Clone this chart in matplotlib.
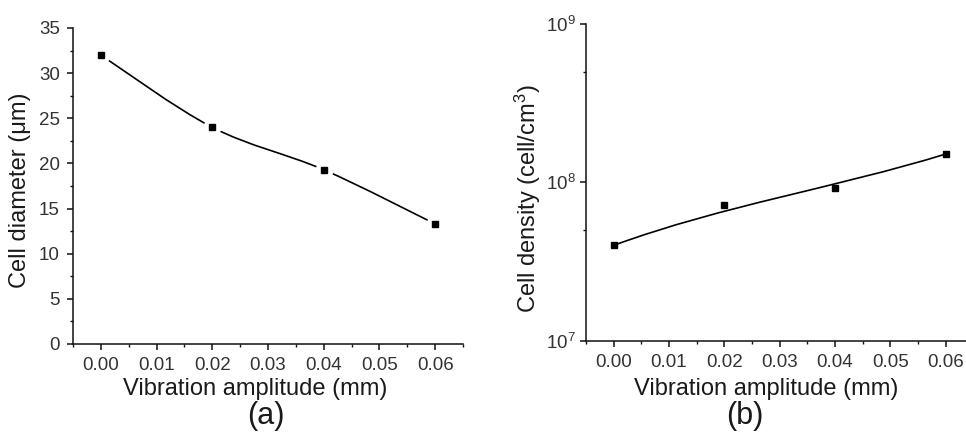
import numpy as np
import matplotlib
matplotlib.use("Agg")
import matplotlib.pyplot as plt
from matplotlib.path import Path
from matplotlib.patches import PathPatch
from matplotlib.ticker import MultipleLocator, LogLocator, NullFormatter, FormatStrFormatter

# Measured data
amplitude = [0.00, 0.02, 0.04, 0.06]            # mm
cell_diameter = [32.0, 24.0, 19.3, 13.3]        # um
cell_density = [4.0e7, 7.2e7, 9.2e7, 1.51e8]    # cell/cm^3

x_ticks = [0.00, 0.01, 0.02, 0.03, 0.04, 0.05, 0.06]

plt.rcParams["font.family"] = ["Liberation Sans", "DejaVu Sans"]
plt.rcParams["mathtext.fontset"] = "custom"
plt.rcParams["mathtext.rm"] = "Liberation Sans"
plt.rcParams["mathtext.it"] = "Liberation Sans:italic"
plt.rcParams["mathtext.bf"] = "Liberation Sans:bold"

TEXT = "#1a1a1a"
TICKTXT = "#333333"


def catmull_rom_path(x, y):
    """Smooth curve through every point, built from cubic Bezier segments."""
    pts = np.column_stack([x, y]).astype(float)
    ext = np.vstack([pts[0], pts, pts[-1]])
    verts = [pts[0]]
    codes = [Path.MOVETO]
    for i in range(len(pts) - 1):
        p0, p1, p2, p3 = ext[i], ext[i + 1], ext[i + 2], ext[i + 3]
        verts += [p1 + (p2 - p0) / 6.0, p2 - (p3 - p1) / 6.0, p2]
        codes += [Path.CURVE4] * 3
    return Path(verts, codes)


def bspline_path(x, y):
    """Cubic B-spline using the data points as control points."""
    verts = np.column_stack([x, y]).astype(float)
    codes = [Path.MOVETO] + [Path.CURVE4] * (len(verts) - 1)
    return Path(verts, codes)


fig = plt.figure(figsize=(9.66, 4.37), dpi=100)
ax1 = fig.add_axes([73 / 966, (437 - 344) / 437, 390 / 966, 316 / 437])
ax2 = fig.add_axes([586 / 966, (437 - 340.7) / 437, 387.4 / 966, 316.7 / 437])

for ax in (ax1, ax2):
    for side in ("top", "right"):
        ax.spines[side].set_visible(False)
    for side in ("left", "bottom"):
        ax.spines[side].set_linewidth(1.1)
        ax.spines[side].set_color("#111111")
    ax.tick_params(which="major", direction="out", length=4.5, width=1.1,
                   labelsize=13.5, labelcolor=TICKTXT, color="#111111", pad=5)
    ax.tick_params(which="minor", direction="out", length=2.5, width=1.0,
                   color="#111111")
    ax.set_xlim(-0.005, 0.065)
    ax.set_xticks(x_ticks)
    ax.xaxis.set_minor_locator(MultipleLocator(0.005))
    ax.xaxis.set_major_formatter(FormatStrFormatter("%.2f"))

# (a) cell diameter
ax1.set_ylim(0, 35)
ax1.yaxis.set_major_locator(MultipleLocator(5))
ax1.yaxis.set_minor_locator(MultipleLocator(2.5))
ax1.add_patch(PathPatch(catmull_rom_path(amplitude, cell_diameter),
                        facecolor="none", edgecolor="black", lw=1.2, zorder=2))
ax1.plot(amplitude, cell_diameter, ls="none", marker="o", ms=12,
         mfc="white", mec="white", zorder=3)
ax1.plot(amplitude, cell_diameter, ls="none", marker="s", ms=5,
         mfc="black", mec="black", zorder=4)

# (b) cell density
ax2.set_yscale("log")
ax2.set_ylim(1e7, 1e9)
ax2.yaxis.set_major_locator(LogLocator(base=10, numticks=5))
ax2.yaxis.set_minor_locator(LogLocator(base=10, subs=[5], numticks=5))
ax2.yaxis.set_minor_formatter(NullFormatter())
ax2.tick_params(axis="y", which="major", pad=3)
ax2.add_patch(PathPatch(bspline_path(amplitude, cell_density),
                        facecolor="none", edgecolor="black", lw=1.2, zorder=2))
ax2.plot(amplitude, cell_density, ls="none", marker="s", ms=5,
         mfc="black", mec="black", zorder=4)

# Axis titles and panel letters
fig.text(255 / 966, 1 - 395 / 437, "Vibration amplitude (mm)", fontsize=17,
         ha="center", va="baseline", color=TEXT)
fig.text(766 / 966, 1 - 395 / 437, "Vibration amplitude (mm)", fontsize=17,
         ha="center", va="baseline", color=TEXT)
fig.text(20 / 966, 1 - 190 / 437, "Cell diameter (\u03bcm)", fontsize=17,
         rotation=90, ha="center", va="center", color=TEXT)
fig.text(528 / 966, 1 - 199 / 437, r"Cell density (cell/cm$^{3}$)", fontsize=17,
         rotation=90, ha="center", va="center", color=TEXT)
fig.text(266 / 966, 1 - 416 / 437, "(a)", fontsize=22,
         ha="center", va="center", color=TEXT)
fig.text(745 / 966, 1 - 416 / 437, "(b)", fontsize=22,
         ha="center", va="center", color=TEXT)

fig.savefig("out.png", dpi=100, facecolor="white")
